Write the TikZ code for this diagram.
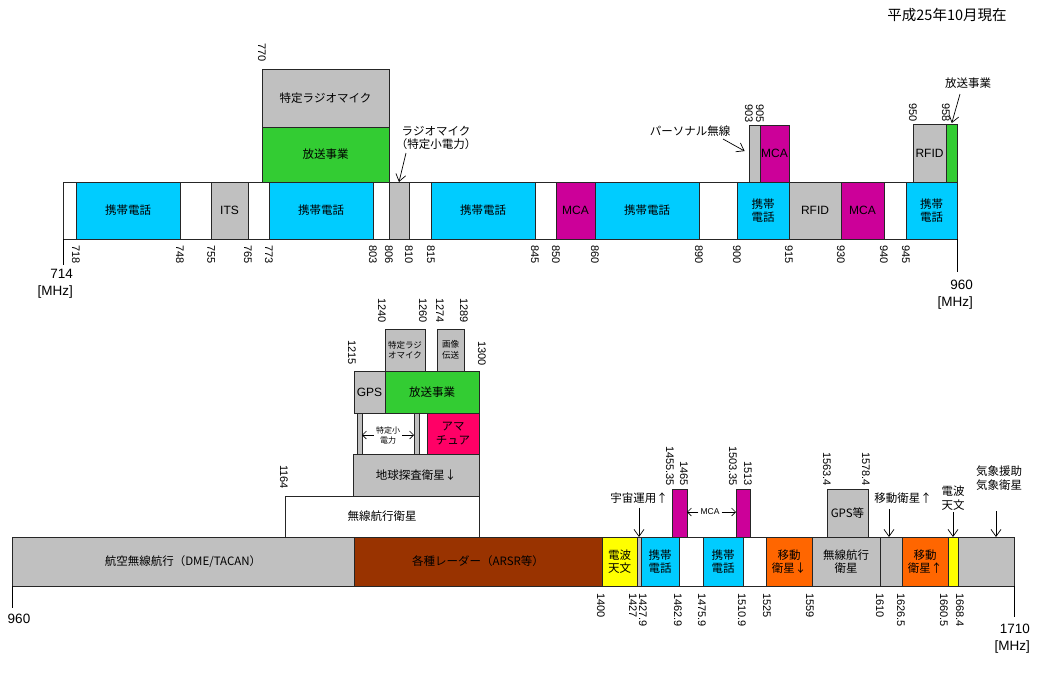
\documentclass[tikz,border=0pt]{standalone}
\usepackage{fontspec}
\setmainfont{Liberation Sans}
\newfontfamily\jp{Noto Sans CJK JP}
\usetikzlibrary{arrows.meta}
\definecolor{cBlue}{HTML}{00CCFF}
\definecolor{cGreen}{HTML}{33CC33}
\definecolor{cGrey}{HTML}{C0C0C0}
\definecolor{cMag}{HTML}{CC0099}
\definecolor{cOrange}{HTML}{FF6600}
\definecolor{cYellow}{HTML}{FFFF00}
\definecolor{cBrown}{HTML}{993300}
\definecolor{cPink}{HTML}{FF0066}
\newcommand\seg[7]{\node[seg,#6,minimum width={#3-#2},minimum height={#5-#4}] (#1) at ({(#2+#3)/2},{(#4+#5)/2}) {#7};}
\begin{document}
\begin{tikzpicture}[x=1pt,y=-1pt,
 seg/.style={draw=black!85,line width=0.9pt,inner sep=0pt,outer sep=0pt,align=center,font=\jp\fontsize{11.5}{13.5}\selectfont},
 lat/.style={font=\rmfamily\fontsize{12}{13.5}\selectfont},
 small/.style={font=\jp\fontsize{8.5}{10.5}\selectfont},
 sblue/.style={fill=cBlue}, sgreen/.style={fill=cGreen}, sgrey/.style={fill=cGrey},
 smag/.style={fill=cMag}, sorange/.style={fill=cOrange}, syellow/.style={fill=cYellow},
 sbrown/.style={fill=cBrown}, spink/.style={fill=cPink}, swhite/.style={fill=white},
 tickb/.style={rotate=-90,anchor=west,inner sep=0pt,font=\rmfamily\fontsize{11}{12}\selectfont},
 ticka/.style={rotate=-90,anchor=east,inner sep=0pt,font=\rmfamily\fontsize{11}{12}\selectfont},
 lbl/.style={inner sep=1pt,align=center,font=\jp\fontsize{11.5}{13.5}\selectfont},
 arr/.style={-{Straight Barb[length=7pt,width=10pt]},line width=0.7pt},
 arrs/.style={-{Straight Barb[length=4pt,width=8pt]},line width=0.6pt},
 endl/.style={line width=0.9pt},
 mhz/.style={inner sep=0pt,align=right,font=\rmfamily\fontsize{13.5}{17}\selectfont}
]
\useasboundingbox[fill=white] (0,0) rectangle (1040,697);

% header
\node[lbl,font=\jp\fontsize{14.5}{16}\selectfont] (hdr) at (947,15) {平成25年10月現在};

% ===== top band =====
\seg{a714}{63}{76}{182}{239}{swhite}{}
\seg{a718}{76}{180}{182}{239}{sblue}{携帯電話}
\seg{a748}{180}{211}{182}{239}{swhite}{}
\seg{a755}{211}{248}{182}{239}{sgrey,lat}{ITS}
\seg{a765}{248}{269}{182}{239}{swhite}{}
\seg{a773}{269}{373}{182}{239}{sblue}{携帯電話}
\seg{a803}{373}{389}{182}{239}{swhite}{}
\seg{a806}{389}{409}{182}{239}{sgrey}{}
\seg{a810}{409}{431}{182}{239}{swhite}{}
\seg{a815}{431}{535}{182}{239}{sblue}{携帯電話}
\seg{a845}{535}{556}{182}{239}{swhite}{}
\seg{a850}{556}{595}{182}{239}{smag,lat}{MCA}
\seg{a860}{595}{699}{182}{239}{sblue}{携帯電話}
\seg{a890}{699}{737}{182}{239}{swhite}{}
\seg{a900}{737}{789}{182}{239}{sblue}{携帯\\電話}
\seg{a915}{789}{841}{182}{239}{sgrey,lat}{RFID}
\seg{a930}{841}{884}{182}{239}{smag,lat}{MCA}
\seg{a940}{884}{906}{182}{239}{swhite}{}
\seg{a945}{906}{957}{182}{239}{sblue}{携帯\\電話}

\seg{u770a}{262}{389}{69}{127}{sgrey}{特定ラジオマイク}
\seg{u770b}{262}{389}{127}{182}{sgreen}{放送事業}
\seg{u903}{749}{760}{125}{182}{sgrey}{}
\seg{u905}{760}{789}{125}{182}{smag,lat}{MCA}
\seg{u950}{913}{946}{124}{182}{sgrey,lat}{RFID}
\seg{u958}{946}{957}{124}{182}{sgreen}{}

\node[ticka] (k770) at (262,62) {770};
\node[ticka] (k903) at (749,123) {903};
\node[ticka] (k905) at (760,123) {905};
\node[ticka] (k950) at (913,122) {950};
\node[ticka] (k958) at (946,122) {958};

\foreach \v/\x in {718/76,748/180,755/211,765/248,773/269,803/373,806/389,810/409,815/431,845/535,850/556,860/595,890/699,900/737,915/789,930/841,940/884,945/906}
  \node[tickb] (t\v) at (\x,245) {\v};

\coordinate (e714) at (63,265);
\draw[endl] (a714.south west) -- (e714);
\node[mhz,anchor=north east] (n714) at (73,269) {714\\{[MHz]}};
\coordinate (e960) at (957,272);
\draw[endl] (a945.south east) -- (e960);
\node[mhz,anchor=north east] (n960) at (973,280) {960\\{[MHz]}};

\node[lbl] (lRM) at (436,138) {ラジオマイク\\（特定小電力）};
\coordinate (rmS) at (406,153);
\draw[arr] (rmS) -- (a806.north);
\node[lbl] (lPer) at (690,131) {パーソナル無線};
\coordinate (perS) at (723,139);
\draw[arr,shorten >=5pt] (perS) -- (u903.west);
\node[lbl] (lHB) at (968,83) {放送事業};
\coordinate (hbS) at (960,94);
\draw[arr,shorten >=1pt] (hbS) -- (u958.north);

% ===== bottom band =====
\seg{b960}{12}{354}{537}{586}{sgrey}{航空無線航行（DME/TACAN）}
\seg{b1215}{354}{602}{537}{586}{sbrown}{各種レーダー（ARSR等）}
\seg{b1400}{602}{637}{537}{586}{syellow}{電波\\天文}
\seg{b1427}{637}{641}{537}{586}{sgrey}{}
\seg{b1427x}{641}{679}{537}{586}{sblue}{携帯\\電話}
\seg{b1462}{679}{703}{537}{586}{swhite}{}
\seg{b1475}{703}{743}{537}{586}{sblue}{携帯\\電話}
\seg{b1510}{743}{766}{537}{586}{swhite}{}
\seg{b1525}{766}{812}{537}{586}{sorange}{移動\\衛星↓}
\seg{b1559}{812}{880}{537}{586}{sgrey}{無線航行\\衛星}
\seg{b1610}{880}{902}{537}{586}{sgrey}{}
\seg{b1626}{902}{948}{537}{586}{sorange}{移動\\衛星↑}
\seg{b1660}{948}{958}{537}{586}{syellow}{}
\seg{b1668}{958}{1014}{537}{586}{sgrey}{}

\seg{v1164}{285}{479}{496}{537}{swhite}{無線航行衛星}
\seg{vchk}{353}{479}{454}{496}{sgrey}{地球探査衛星↓}
\seg{vbar1}{357}{362}{413}{454}{sgrey}{}
\seg{vbar2}{414}{419}{413}{454}{sgrey}{}
\seg{vama}{427}{479}{413}{454}{spink}{アマ\\チュア}
\seg{vgps}{354}{385}{371}{413}{sgrey,lat}{GPS}
\seg{vhoso}{385}{479}{371}{413}{sgreen}{放送事業}
\seg{vtokr}{385}{425}{329}{371}{sgrey,small}{特定ラジ\\オマイク}
\seg{vgazo}{437}{464}{329}{371}{sgrey,small}{画像\\伝送}

\node[lbl,font=\jp\fontsize{8}{10}\selectfont,inner sep=2pt] (tk) at (388,435) {特定小\\電力};
\draw[arrs] (tk.west) -- (tk.west -| vbar1.east);
\draw[arrs] (tk.east) -- (tk.east -| vbar2.west);

\seg{m1455}{672}{687}{489}{537}{smag}{}
\seg{m1503}{736}{750}{489}{537}{smag}{}
\seg{g1563}{827}{868}{489}{537}{sgrey}{GPS等}

\node[ticka] (k1164) at (284,489) {1164};
\node[ticka] (k1215) at (352,365) {1215};
\node[ticka] (k1240) at (382,323) {1240};
\node[ticka] (k1260) at (423,323) {1260};
\node[ticka] (k1274) at (440,323) {1274};
\node[ticka] (k1289) at (464,323) {1289};
\node[ticka] (k1300) at (482,366) {1300};
\node[ticka] (k1455) at (670,486) {1455.35};
\node[ticka] (k1465) at (684,486) {1465};
\node[ticka] (k1503) at (733,486) {1503.35};
\node[ticka] (k1513) at (748,486) {1513};
\node[ticka] (k1563) at (827,486) {1563.4};
\node[ticka] (k1578) at (866,486) {1578.4};

\foreach \v/\x/\n in {1400/601/a,1427/633/b,1427.9/643/c,1462.9/678/d,1475.9/702/e,1510.9/742/f,1525/767/g,1559/810/h,1610/880/i,1626.5/901/j,1660.5/944/k,1668.4/960/l}
  \node[tickb] (s\n) at (\x,593) {\v};

\coordinate (e960b) at (12,608);
\draw[endl] (b960.south west) -- (e960b);
\node[mhz] (n960b) at (19,619) {960};
\coordinate (e1710) at (1014,617);
\draw[endl] (b1668.south east) -- (e1710);
\node[mhz,anchor=north east] (n1710) at (1030,624) {1710\\{[MHz]}};

\node[lbl,inner sep=2pt,font=\rmfamily\fontsize{8.5}{10}\selectfont] (lMCA) at (710,512) {MCA};
\draw[arrs] (lMCA.west) -- (lMCA.west -| m1455.east);
\draw[arrs] (lMCA.east) -- (lMCA.east -| m1503.west);

\node[lbl] (lUch) at (639,498) {宇宙運用↑};
\draw[arr,shorten <=3pt] (lUch.south) -- (b1427.north);
\node[lbl] (lIdo) at (903,498) {移動衛星↑};
\coordinate (idoS) at (889,509);
\draw[arr] (idoS) -- (idoS |- b1610.north);
\node[lbl] (lDenpa) at (953,498) {電波\\天文};
\draw[arr,shorten <=1pt] (lDenpa.south) -- (b1660.north);
\node[lbl] (lKisho) at (999,478) {気象援助\\気象衛星};
\coordinate (kS) at (996,511);
\draw[arr] (kS) -- (kS |- b1668.north);
\end{tikzpicture}
\end{document}
